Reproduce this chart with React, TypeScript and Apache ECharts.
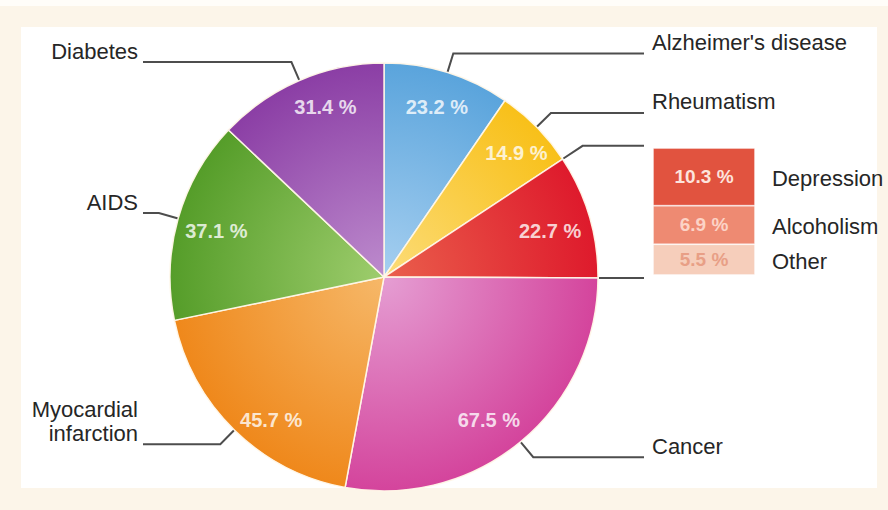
import React, { useEffect, useRef } from 'react';
import * as echarts from 'echarts';

// ---- data ----
const categories = [
  "Alzheimer's disease",
  'Rheumatism',
  'Depression, alcoholism, other',
  'Cancer',
  'Myocardial\ninfarction',
  'AIDS',
  'Diabetes',
];
const values = [23.2, 14.9, 22.7, 67.5, 45.7, 37.1, 31.4];
const boxNames = ['Depression', 'Alcoholism', 'Other'];
const boxValues = [10.3, 6.9, 5.5];

// ---- styles ----
const sliceColors: [string, string][] = [
  ['#a6cff0', '#5aa4dc'],
  ['#fcdc78', '#f8c019'],
  ['#ea5f4c', '#de1a2c'],
  ['#e59ed3', '#d4449c'],
  ['#f6b869', '#ef881b'],
  ['#9ecd6d', '#559d29'],
  ['#bd8bcd', '#8b3ea5'],
];
const pctOffsets = [[0, 0], [5, 1], [-5, 5], [-9, 6], [12, 15], [4, 3], [12, -6]];
const boxColors = ['#e1533f', '#ee8a72', '#f6cebb'];
const boxTextColors = ['#fde4dd', '#fcd3c6', '#e89f86'];

const CX = 384;
const CY = 277;
const R = 214;
const LEAD = 20;
const LEFT_END = 143;
const RIGHT_END = 644;
const FONT = '"Liberation Sans", Arial, Helvetica, sans-serif';

export default function App() {
  const ref = useRef<HTMLDivElement>(null);

  useEffect(() => {
    if (!ref.current) return;
    const chart = echarts.init(ref.current, undefined, { renderer: 'svg' });
    const total = values.reduce((a, b) => a + b, 0);

    const grad = (i: number) => ({
      type: 'radial',
      x: CX,
      y: CY,
      r: R,
      global: true,
      colorStops: [
        { offset: 0, color: sliceColors[i][0] },
        { offset: 1, color: sliceColors[i][1] },
      ],
    });

    // bracket lines for the red slice (computed from the data angles)
    const angleAt = (cum: number) => (cum / total) * Math.PI * 2; // from top, clockwise
    const bracket = (cum: number) => {
      const a = angleAt(cum);
      const dx = Math.sin(a);
      const dy = -Math.cos(a);
      const p0 = [CX + dx * (R + 1), CY + dy * (R + 1)];
      const p1 = [p0[0] + dx * 23, p0[1] + dy * 23];
      return [p0, p1, [RIGHT_END, p1[1]]];
    };
    const topCum = values[0] + values[1];
    const botCum = values[0] + values[1] + values[2];

    const option: any = {
      animation: false,
      backgroundColor: '#fcf5e9',
      graphic: [
        { type: 'rect', z: 0, shape: { x: 0, y: 0, width: 888, height: 6 }, style: { fill: '#fffdf9' } },
        { type: 'rect', z: 0, shape: { x: 21, y: 27, width: 856, height: 461 }, style: { fill: '#ffffff' } },
        {
          type: 'polyline',
          z: 10,
          shape: { points: bracket(topCum) },
          style: { stroke: '#4d4d4d', lineWidth: 2, fill: null },
        },
        {
          type: 'polyline',
          z: 10,
          shape: { points: bracket(botCum) },
          style: { stroke: '#4d4d4d', lineWidth: 2, fill: null },
        },
      ],
      grid: { left: 653, top: 148, width: 102, height: 127 },
      xAxis: { type: 'category', data: ['group'], show: false },
      yAxis: { type: 'value', min: 0, max: values[2], inverse: true, show: false },
      series: [
        {
          type: 'pie',
          center: [CX, CY],
          radius: R,
          startAngle: 90,
          clockwise: true,
          avoidLabelOverlap: false,
          silent: true,
          z: 2,
          itemStyle: { borderColor: 'rgba(255,247,232,0.95)', borderWidth: 1.5 },
          label: {
            show: true,
            position: 'outside',
            formatter: '{b}',
            color: '#262626',
            fontFamily: FONT,
            fontSize: 22,
            lineHeight: 24,
          },
          labelLine: {
            show: true,
            length: LEAD,
            length2: 6,
            lineStyle: { color: '#4d4d4d', width: 2 },
          },
          labelLayout: (params: any) => {
            const pts = params.labelLinePoints;
            if (!pts) return {};
            const p0 = pts[0];
            const dx = p0[0] - CX;
            const dy = p0[1] - CY;
            const len = Math.hypot(dx, dy) || 1;
            const p1 = [p0[0] + (dx / len) * LEAD, p0[1] + (dy / len) * LEAD];
            const left = dx < 0;
            const endX = left ? LEFT_END : RIGHT_END;
            return {
              x: left ? endX - 5 : endX + 8,
              y: p1[1] + 1,
              align: left ? 'right' : 'left',
              verticalAlign: 'bottom',
              labelLinePoints: [p0, p1, [endX, p1[1]]],
            };
          },
          data: categories.map((name, i) => ({
            name,
            value: values[i],
            itemStyle: { color: grad(i) },
            ...(i === 2 ? { label: { show: false }, labelLine: { show: false } } : {}),
          })),
        },
        {
          type: 'pie',
          center: [CX, CY],
          radius: [R * 0.64, R],
          startAngle: 90,
          clockwise: true,
          silent: true,
          z: 3,
          avoidLabelOverlap: false,
          itemStyle: { color: 'rgba(0,0,0,0)', borderWidth: 0 },
          label: {
            show: true,
            position: 'inside',
            formatter: (p: any) => `${p.value} %`,
            color: 'rgba(255,255,255,0.8)',
            fontFamily: FONT,
            fontSize: 20,
            fontWeight: 'bold',
          },
          labelLine: { show: false },
          data: categories.map((name, i) => ({
            name,
            value: values[i],
            label: { offset: pctOffsets[i] },
          })),
        },
        ...boxNames.map((name, i) => ({
          type: 'bar',
          stack: 'group',
          barWidth: '100%',
          barCategoryGap: 0,
          silent: true,
          z: 4,
          itemStyle: { color: boxColors[i], borderColor: 'rgba(255,255,255,0.3)', borderWidth: 1 },
          label: {
            show: true,
            position: 'insideLeft',
            distance: 0,
            formatter: (p: any) => `{v|${p.value} %}{n|${name}}`,
            rich: {
              v: {
                width: 102,
                align: 'center',
                color: boxTextColors[i],
                fontFamily: FONT,
                fontSize: 19,
                fontWeight: 'bold',
              },
              n: {
                padding: [4, 0, 0, 17],
                color: '#262626',
                fontFamily: FONT,
                fontSize: 22,
              },
            },
          },
          data: [boxValues[i]],
        })),
      ],
    };

    chart.setOption(option);
    return () => chart.dispose();
  }, []);

  return (
    <div
      ref={ref}
      style={{ position: 'absolute', left: 0, top: 0, width: 888, height: 510 }}
    />
  );
}
